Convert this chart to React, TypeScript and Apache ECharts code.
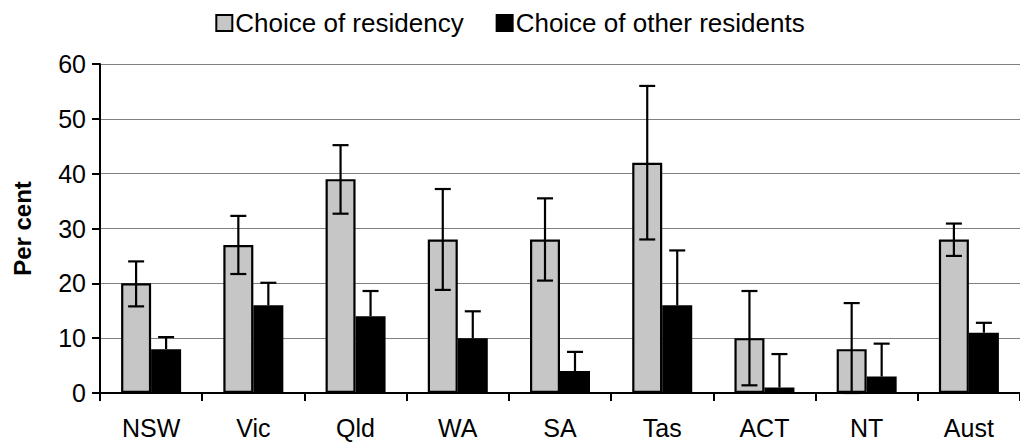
import React, { useEffect, useRef } from "react";
import * as echarts from "echarts";

const categories = ["NSW", "Vic", "Qld", "WA", "SA", "Tas", "ACT", "NT", "Aust"];
const residency = [20, 27, 39, 28, 28, 42, 10, 8, 28];
const residencyLow = [15.8, 21.7, 32.7, 18.8, 20.5, 28, 1.4, 0, 25];
const residencyHigh = [24, 32.3, 45.2, 37.2, 35.5, 56, 18.6, 16.4, 30.9];
const others = [8, 16, 14, 10, 4, 16, 1, 3, 11];
const othersHigh = [10.2, 20.1, 18.6, 14.9, 7.5, 26, 7.1, 9, 12.8];
const yTicks = [0, 10, 20, 30, 40, 50, 60];

const FONT = "'Liberation Sans', Arial, sans-serif";

function errorSeries(name: string, data: number[][], offset: number, showLow: boolean) {
  return {
    type: "custom",
    name,
    z: 10,
    silent: true,
    clip: false,
    encode: { x: 0, y: [1, 2] },
    data,
    renderItem: (params: any, api: any) => {
      const idx = api.value(0);
      const lo = api.coord([idx, api.value(1)]);
      const hi = api.coord([idx, api.value(2)]);
      const x = lo[0] + offset;
      const cap = 8;
      const style = { stroke: "#000", lineWidth: 2.2 };
      const children: any[] = [
        { type: "line", shape: { x1: x, y1: lo[1], x2: x, y2: hi[1] }, style },
        { type: "line", shape: { x1: x - cap, y1: hi[1], x2: x + cap, y2: hi[1] }, style },
      ];
      if (showLow) {
        children.push({ type: "line", shape: { x1: x - cap, y1: lo[1], x2: x + cap, y2: lo[1] }, style });
      }
      return { type: "group", children };
    },
  };
}

export default function App() {
  const ref = useRef<HTMLDivElement>(null);
  useEffect(() => {
    if (!ref.current) return;
    const chart = echarts.init(ref.current, undefined, { renderer: "svg" });
    const resErr = categories.map((_, i) => [i, residencyLow[i], residencyHigh[i]]);
    const othErr = categories.map((_, i) => [i, others[i], othersHigh[i]]);
    chart.setOption({
      animation: false,
      textStyle: { fontFamily: FONT },
      legend: {
        data: ["Choice of residency", "Choice of other residents"],
        top: 5,
        left: "center",
        icon: "rect",
        itemWidth: 16,
        itemHeight: 16,
        itemGap: 32,
        textStyle: { fontSize: 26, color: "#000", fontFamily: FONT, padding: [0, 0, 0, -2] },
      },
      grid: { left: 100, right: -8, top: 64, bottom: 52 },
      xAxis: {
        type: "category",
        data: categories,
        axisLine: { show: true, lineStyle: { color: "#000", width: 2 } },
        axisTick: { show: true, length: 8, lineStyle: { color: "#000", width: 2 } },
        axisLabel: { fontSize: 25, color: "#000", margin: 22, fontFamily: FONT },
      },
      yAxis: {
        type: "value",
        min: yTicks[0],
        max: yTicks[yTicks.length - 1],
        interval: 10,
        name: "Per cent",
        nameLocation: "middle",
        nameRotate: 90,
        nameGap: 66,
        nameTextStyle: { fontSize: 24, fontWeight: "bold", color: "#000", fontFamily: FONT },
        axisLine: { show: true, lineStyle: { color: "#000", width: 2 } },
        axisTick: { show: true, length: 8, lineStyle: { color: "#000", width: 2 } },
        axisLabel: { fontSize: 25, color: "#000", margin: 14, fontFamily: FONT },
        splitLine: { show: true, lineStyle: { color: "#808080", width: 1 } },
      },
      series: [
        {
          type: "bar",
          name: "Choice of residency",
          data: residency,
          barWidth: 30,
          barGap: "0%",
          itemStyle: { color: "#c6c6c6", borderColor: "#000", borderWidth: 2.2 },
        },
        {
          type: "bar",
          name: "Choice of other residents",
          data: others,
          barWidth: 30,
          barGap: "0%",
          itemStyle: { color: "#000", borderColor: "#000", borderWidth: 2.2 },
        },
        errorSeries("resErr", resErr, -15, true),
        errorSeries("othErr", othErr, 15, false),
      ],
    });
    return () => chart.dispose();
  }, []);
  return (
    <div
      ref={ref}
      style={{ position: "absolute", left: 0, top: 0, width: 1020, height: 445, background: "#fff" }}
    />
  );
}
